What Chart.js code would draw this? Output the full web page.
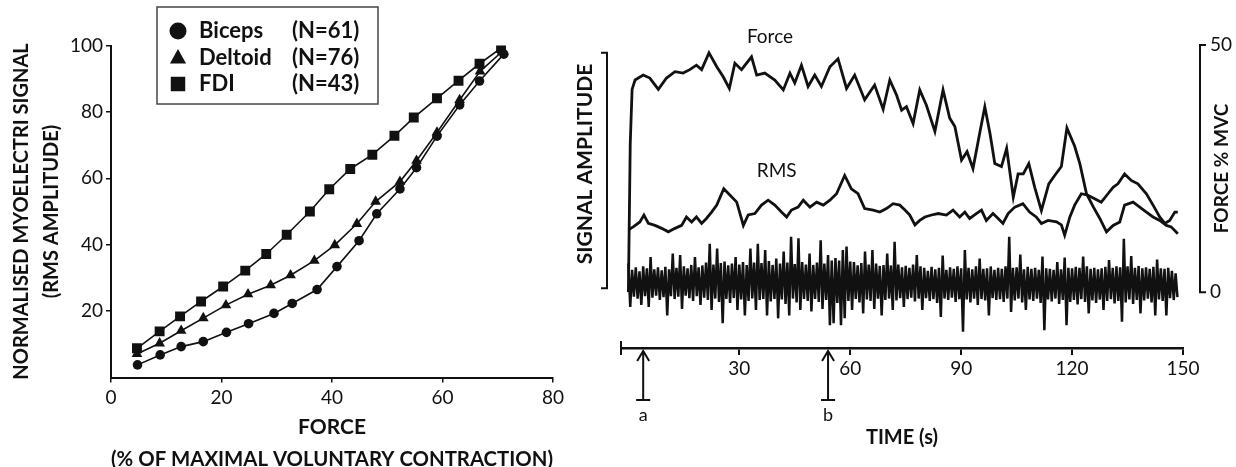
<!DOCTYPE html>
<html>
<head>
<meta charset="utf-8">
<script src="https://cdn.jsdelivr.net/npm/chart.js@4/dist/chart.umd.min.js"></script>
<style>
  html, body { margin: 0; padding: 0; background: #fff; overflow: hidden; }
  #wrap { position: relative; width: 1236px; height: 467px; }
  #left { position: absolute; left: 0; top: 0; width: 575px; height: 475px; }
  #right { position: absolute; left: 560px; top: 0; width: 676px; height: 467px; }
</style>
</head>
<body>
<div id="wrap">
  <div id="left"><canvas id="curves"></canvas></div>
  <div id="right"><canvas id="fatigue"></canvas></div>
</div>
<script>
// ---- left panel: RMS amplitude vs force ----
const muscleNames = ["Biceps", "Deltoid", "FDI"];
const muscleN = [61, 76, 43];
const bicepsForce  = [4.8, 8.9, 12.7, 16.7, 20.9, 24.9, 29.5, 32.8, 37.3, 40.9, 44.9, 48.1, 52.3, 55.3, 59.0, 63.1, 66.7, 71.1];
const bicepsSignal = [3.8, 6.8, 9.3, 10.8, 13.6, 16.2, 19.3, 22.3, 26.5, 33.4, 41.2, 49.3, 56.8, 63.2, 72.7, 82.1, 89.3, 97.4];
const deltoidForce  = [4.7, 8.8, 12.7, 16.7, 20.8, 24.8, 28.9, 32.5, 36.8, 40.5, 44.5, 47.9, 52.3, 55.3, 59.0, 63.1, 66.8, 70.8];
const deltoidSignal = [7.1, 10.3, 14.1, 17.9, 21.8, 25.1, 27.8, 30.8, 35.2, 39.9, 46.3, 53.0, 59.0, 65.3, 73.8, 83.6, 92.2, 98.2];
const fdiForce  = [4.7, 8.8, 12.5, 16.3, 20.3, 24.3, 28.1, 31.8, 36.0, 39.5, 43.3, 47.3, 51.3, 54.8, 59.0, 62.9, 66.7, 70.6];
const fdiSignal = [8.8, 13.9, 18.4, 22.9, 27.4, 32.2, 37.2, 43.0, 50.0, 56.7, 62.8, 67.1, 72.8, 78.3, 84.1, 89.4, 94.5, 99.2];
const forceTicks = [0, 20, 40, 60, 80];
const signalTicks = [20, 40, 60, 80, 100];

// ---- right panel: sustained contraction ----
const forceTime = [0, 0.5, 1.0, 1.8, 4.0, 5.8, 8.1, 10.3, 12.6, 14.8, 16.6, 18.4, 19.8, 21.8, 23.9, 25.6, 27.3, 28.8, 30.6, 33.3,
  34.7, 36.9, 39.6, 41.9, 43.7, 45.0, 46.8, 48.6, 50.4, 52.2, 54.5, 56.7, 59.0, 61.2, 63.9, 66.6, 68.9, 70.7, 72.5, 73.9,
  75.2, 77.0, 78.8, 80.6, 82.9, 85.1, 86.9, 88.3, 90.1, 91.6, 93.2, 95.0, 96.4, 97.8, 99.1, 100.9, 102.3, 104.1, 105.4, 106.8,
  108.3, 109.9, 111.7, 113.7, 115.3, 117.1, 118.6, 120.7, 122.1, 123.9, 125.7, 127.5, 129.3, 131.1, 132.9, 134.2, 136.5, 138.3, 140.1, 141.9,
  143.7, 145.5, 146.8, 148.6];
const forceMvc = [0, 30, 41, 42.9, 43.9, 43.3, 41.0, 43.3, 44.6, 44.3, 45.0, 45.9, 45.0, 48.4, 45.6, 43.6, 41.2, 46.3, 45.0, 47.6,
  43.9, 44.3, 42.9, 40.9, 44.3, 42.3, 45.9, 41.6, 43.9, 41.6, 45.6, 47.2, 41.2, 43.9, 38.9, 41.9, 37.0, 42.9, 39.9, 36.8,
  37.5, 34.1, 40.9, 37.8, 32.5, 40.9, 35.2, 33.5, 26.7, 28.4, 25.0, 32.1, 37.5, 32.1, 26.0, 25.4, 29.1, 19.2, 23.9, 23.9,
  26.0, 21.2, 16.5, 21.9, 23.6, 25.4, 33.2, 29.5, 26.0, 19.9, 17.3, 14.9, 12.2, 13.5, 14.2, 17.6, 18.2, 17.2, 16.2, 15.2,
  14.5, 13.5, 13.2, 11.8];
const rmsTime = [0, 1.3, 3.1, 4.2, 5.4, 7.2, 9.0, 10.8, 12.6, 14.4, 15.7, 17.1, 18.4, 19.8, 21.1, 22.5, 23.9, 25.8, 27.5, 29.3,
  31.1, 32.4, 34.2, 36.0, 37.8, 39.6, 41.4, 42.8, 44.1, 45.9, 47.3, 49.1, 50.9, 52.7, 54.5, 56.3, 58.5, 60.3, 62.1, 63.9,
  66.2, 68.0, 69.8, 71.6, 73.4, 74.8, 76.1, 77.5, 78.8, 80.2, 82.0, 83.8, 86.0, 87.8, 89.6, 91.0, 92.3, 94.1, 95.5, 96.8,
  98.6, 100.0, 101.3, 102.7, 104.5, 106.7, 108.5, 110.3, 111.7, 113.5, 115.8, 117.1, 118.0, 119.4, 120.7, 122.5, 124.3, 126.1, 127.9, 129.7,
  131.1, 132.4, 134.2, 136.0, 137.8, 140.1, 141.9, 143.7, 145.1, 146.4, 147.8, 148.6];
const rmsAmp = [12.6, 13.2, 14.2, 15.6, 13.9, 13.5, 12.9, 12.2, 12.9, 13.5, 15.2, 14.2, 15.2, 13.9, 14.9, 16.2, 17.6, 20.9, 19.6, 18.2,
  13.5, 15.6, 15.9, 17.6, 18.6, 17.6, 16.2, 15.2, 16.6, 17.2, 18.6, 17.2, 18.2, 17.6, 18.6, 19.9, 23.6, 20.9, 19.9, 16.9,
  16.6, 16.2, 16.9, 17.9, 17.6, 16.6, 15.6, 13.6, 14.5, 15.2, 15.6, 15.9, 15.6, 16.6, 15.2, 16.2, 14.9, 15.9, 16.6, 14.5,
  15.9, 14.9, 13.9, 15.9, 17.2, 17.9, 16.2, 15.2, 13.9, 14.5, 14.2, 13.6, 11.5, 15.2, 17.6, 19.9, 19.6, 18.9, 18.2, 19.9,
  21.2, 21.9, 23.9, 22.6, 21.9, 19.9, 17.6, 15.2, 13.9, 14.5, 16.2, 16.2];
// raw EMG: one positive excursion at each whole second, one negative half a second later
const emgPeaks = [5.8, 4.5, 5.0, 4.2, 5.2, 4.8, 7.1, 4.6, 5.0, 4.4,
  5.1, 4.6, 7.8, 4.9, 7.5, 5.2, 4.8, 5.5, 7.1, 5.0,
  5.4, 6.0, 9.8, 5.6, 8.8, 5.9, 6.2, 5.4, 5.8, 7.1,
  5.6, 6.1, 5.5, 8.8, 6.0, 9.8, 5.9, 8.5, 6.3, 5.5,
  6.8, 5.8, 8.2, 6.0, 11.2, 5.7, 10.9, 6.1, 5.6, 7.8,
  5.5, 6.0, 10.5, 5.8, 7.5, 6.4, 6.9, 6.4, 8.5, 9.2,
  6.2, 6.1, 5.4, 5.9, 8.2, 5.6, 8.5, 5.8, 5.3, 5.5,
  7.8, 5.4, 10.2, 5.6, 5.0, 5.3, 4.9, 5.6, 7.5, 5.2,
  4.9, 4.3, 5.1, 4.6, 4.9, 7.4, 4.5, 5.0, 4.7, 5.2,
  4.8, 8.5, 4.9, 4.6, 5.2, 6.8, 4.7, 4.8, 5.2, 4.5,
  4.9, 4.7, 5.2, 11.2, 4.9, 5.0, 7.6, 4.6, 5.1, 4.7,
  4.9, 4.5, 7.2, 4.8, 4.7, 4.5, 6.1, 4.6, 7.0, 4.9,
  4.8, 5.1, 4.9, 7.2, 5.2, 4.7, 4.9, 4.6, 4.8, 5.1,
  6.5, 4.9, 5.2, 5.0, 10.8, 5.2, 7.3, 4.9, 5.3, 4.8,
  5.0, 4.7, 5.1, 6.6, 4.8, 4.7, 4.9, 4.3, 3.8];
const emgTroughs = [-3.0, -0.9, -1.3, -2.6, -0.8, -3.0, -1.1, -0.7, -1.6, -1.0,
  -4.7, -0.8, -1.4, -0.9, -3.4, -0.7, -1.2, -1.8, -0.8, -2.6,
  -1.1, -1.6, -3.6, -1.3, -2.0, -6.3, -1.4, -2.2, -1.2, -3.6,
  -1.5, -4.7, -1.8, -1.3, -3.6, -1.6, -1.4, -4.7, -1.9, -1.4,
  -5.3, -1.5, -2.4, -4.7, -1.3, -2.1, -3.6, -1.4, -1.8, -3.9,
  -1.4, -2.0, -3.4, -1.6, -6.7, -6.3, -2.2, -6.7, -5.3, -1.8,
  -3.6, -1.4, -2.1, -4.3, -1.5, -1.8, -3.4, -1.3, -4.7, -1.6,
  -1.3, -3.6, -1.7, -1.2, -3.0, -1.4, -1.1, -1.9, -1.3, -3.6,
  -1.2, -1.8, -1.4, -2.2, -5.0, -1.3, -1.6, -1.1, -2.0, -1.4,
  -8.0, -1.5, -2.1, -1.3, -2.6, -1.4, -1.7, -4.7, -1.2, -1.6,
  -1.4, -2.0, -1.3, -4.0, -1.7, -1.3, -2.1, -3.6, -1.5, -1.8,
  -1.3, -2.2, -7.7, -1.5, -1.9, -1.3, -2.4, -1.6, -6.7, -2.0,
  -1.6, -2.5, -1.4, -2.0, -4.3, -1.7, -2.2, -1.5, -3.6, -1.8,
  -1.4, -2.3, -1.8, -6.0, -2.1, -1.5, -2.4, -1.6, -4.3, -1.7,
  -1.3, -2.1, -4.7, -1.5, -1.8, -4.7, -1.2, -1.6, -1.0];
const timeTicks = [30, 60, 90, 120, 150];
const mvcTicks = [0, 50];
const markTimes = [4, 54];
const markNames = ["a", "b"];
const traceNames = ["Force", "RMS"];
const traceNameTimes = [38.3, 40.1];
const traceNameValues = [51.7, 24.6];

const INK = "#111";
Chart.defaults.font.family = "Lato";
Chart.defaults.color = INK;

function pts(xs, ys) {
  return xs.map((x, i) => ({ x: x, y: ys[i] }));
}
function fixedTicks(values) {
  return function (scale) { scale.ticks = values.map(v => ({ value: v })); };
}

// hand-drawn marker shapes for the boxed legend
function drawMarker(ctx, style, x, y, s) {
  ctx.beginPath();
  if (style === "circle") {
    ctx.arc(x, y, s, 0, Math.PI * 2);
  } else if (style === "triangle") {
    ctx.moveTo(x, y - s);
    ctx.lineTo(x + s * 0.95, y + s * 0.7);
    ctx.lineTo(x - s * 0.95, y + s * 0.7);
    ctx.closePath();
  } else {
    ctx.rect(x - s * 0.85, y - s * 0.85, s * 1.7, s * 1.7);
  }
  ctx.fill();
}

const boxedLegend = {
  id: "boxedLegend",
  afterDraw(chart) {
    const ctx = chart.ctx;
    ctx.save();
    ctx.strokeStyle = "#444";
    ctx.lineWidth = 1.5;
    ctx.strokeRect(157, 7, 221, 97);
    ctx.fillStyle = INK;
    ctx.font = "bold 22px Lato";
    ctx.textBaseline = "middle";
    chart.data.datasets.forEach((ds, i) => {
      const y = 31 + i * 26.5;
      drawMarker(ctx, ds.pointStyle, 178, y, 8.5);
      ctx.fillText(muscleNames[i], 199, y);
      ctx.fillText("(N=" + muscleN[i] + ")", 292, y);
    });
    ctx.restore();
  }
};

function series(label, xs, ys, style, r) {
  return {
    label: label,
    data: pts(xs, ys),
    showLine: true,
    pointStyle: style,
    pointRadius: r,
    pointBackgroundColor: INK,
    pointBorderColor: INK,
    pointBorderWidth: 0,
    borderColor: INK,
    borderWidth: 1.6,
    tension: 0
  };
}

new Chart(document.getElementById("curves"), {
  type: "scatter",
  data: {
    datasets: [
      series(muscleNames[0], bicepsForce, bicepsSignal, "circle", 4.8),
      series(muscleNames[1], deltoidForce, deltoidSignal, "triangle", 6.2),
      series(muscleNames[2], fdiForce, fdiSignal, "rect", 7)
    ]
  },
  options: {
    responsive: true,
    maintainAspectRatio: false,
    animation: false,
    devicePixelRatio: 1,
    layout: { padding: { top: 45.5, right: 22, left: 0, bottom: 0 } },
    plugins: { legend: { display: false }, tooltip: { enabled: false } },
    scales: {
      x: {
        type: "linear", min: 0, max: 80,
        afterBuildTicks: fixedTicks(forceTicks),
        afterFit(scale) { scale.height = 97.5; },
        border: { color: INK, width: 2 },
        grid: { drawOnChartArea: false, color: INK, lineWidth: 1.5, tickLength: 5 },
        ticks: { font: { size: 19 }, padding: 4, maxRotation: 0 },
        title: {
          display: true,
          text: ["FORCE", "(% OF MAXIMAL VOLUNTARY CONTRACTION)"],
          font: { size: 21, weight: "bold", lineHeight: "32px" },
          padding: { top: 0, bottom: 0 }
        }
      },
      y: {
        type: "linear", min: 0, max: 100,
        afterBuildTicks: fixedTicks(signalTicks),
        afterFit(scale) { scale.width = 111; },
        border: { color: INK, width: 2 },
        grid: { drawOnChartArea: false, color: INK, lineWidth: 1.5, tickLength: 5 },
        ticks: { font: { size: 19 }, padding: 3 },
        title: {
          display: true,
          text: ["NORMALISED MYOELECTRI SIGNAL", "(RMS AMPLITUDE)"],
          font: { size: 20, weight: "bold", lineHeight: "30px" },
          padding: { top: 7, bottom: 0 }
        }
      }
    }
  },
  plugins: [boxedLegend]
});

// ---- right panel ----
const emgPoints = [];
emgPeaks.forEach((v, i) => {
  emgPoints.push({ x: i, y: v });
  emgPoints.push({ x: i + 0.5, y: emgTroughs[i] });
});

const traceDecor = {
  id: "traceDecor",
  afterDraw(chart) {
    const { ctx, chartArea } = chart;
    const xs = chart.scales.x, ys = chart.scales.y, amp = chart.scales.amp;
    ctx.save();
    ctx.strokeStyle = INK;
    ctx.fillStyle = INK;
    ctx.lineWidth = 2;

    // bracket for the signal amplitude
    const lx = chartArea.left - 14;
    const lTop = amp.getPixelForValue(48.4), lBot = amp.getPixelForValue(0.8);
    ctx.beginPath();
    ctx.moveTo(lx - 6, lTop); ctx.lineTo(lx, lTop); ctx.lineTo(lx, lBot); ctx.lineTo(lx - 6, lBot);
    ctx.stroke();

    // bracket for force % MVC
    const rx = chartArea.right + 17;
    const rTop = ys.getPixelForValue(mvcTicks[1]), rBot = ys.getPixelForValue(mvcTicks[0]);
    ctx.beginPath();
    ctx.moveTo(rx + 6, rTop); ctx.lineTo(rx, rTop); ctx.lineTo(rx, rBot); ctx.lineTo(rx + 6, rBot);
    ctx.stroke();

    ctx.textAlign = "center";
    ctx.textBaseline = "middle";
    ctx.font = "bold 21px Lato";
    ctx.save();
    ctx.translate(25, 164);
    ctx.rotate(-Math.PI / 2);
    ctx.fillText("SIGNAL AMPLITUDE", 0, 0);
    ctx.restore();
    ctx.font = "bold 19px Lato";
    ctx.save();
    ctx.translate(662, (rTop + rBot) / 2);
    ctx.rotate(-Math.PI / 2);
    ctx.fillText("FORCE % MVC", 0, 0);
    ctx.restore();

    // left end cap of the time axis
    ctx.beginPath();
    ctx.moveTo(chartArea.left, chartArea.bottom - 7);
    ctx.lineTo(chartArea.left, chartArea.bottom + 7);
    ctx.stroke();

    // event arrows a and b
    ctx.font = "18px Lato";
    markTimes.forEach((t, i) => {
      const px = xs.getPixelForValue(t);
      const top = chartArea.bottom + 3, bot = chartArea.bottom + 52;
      ctx.beginPath();
      ctx.moveTo(px, top); ctx.lineTo(px, bot);
      ctx.moveTo(px - 6, top + 10); ctx.lineTo(px, top); ctx.lineTo(px + 6, top + 10);
      ctx.moveTo(px - 7, bot); ctx.lineTo(px + 7, bot);
      ctx.stroke();
      ctx.fillText(markNames[i], px, bot + 15);
    });

    // trace names
    ctx.font = "19px Lato";
    traceNames.forEach((name, i) => {
      ctx.fillText(name, xs.getPixelForValue(traceNameTimes[i]), ys.getPixelForValue(traceNameValues[i]));
    });
    ctx.restore();
  }
};

const yMin = -11.3, yMax = 51.2;

new Chart(document.getElementById("fatigue"), {
  type: "line",
  data: {
    datasets: [
      { label: "EMG", data: emgPoints, yAxisID: "amp", borderColor: INK, borderWidth: 2.5, pointRadius: 0, tension: 0 },
      { label: "RMS", data: pts(rmsTime, rmsAmp), yAxisID: "amp", borderColor: INK, borderWidth: 2.8, pointRadius: 0, tension: 0 },
      { label: "Force", data: pts(forceTime, forceMvc), yAxisID: "y", borderColor: INK, borderWidth: 2.8, pointRadius: 0, tension: 0 }
    ]
  },
  options: {
    responsive: true,
    maintainAspectRatio: false,
    animation: false,
    devicePixelRatio: 1,
    layout: { padding: { top: 39, right: 0, left: 0, bottom: 0 } },
    plugins: { legend: { display: false }, tooltip: { enabled: false } },
    scales: {
      x: {
        type: "linear", min: -2, max: 150,
        afterBuildTicks: fixedTicks(timeTicks),
        afterFit(scale) { scale.height = 119; },
        border: { color: INK, width: 2.5 },
        grid: { drawOnChartArea: false, color: INK, lineWidth: 2, tickLength: 7 },
        ticks: { font: { size: 19 }, padding: 2, maxRotation: 0 },
        title: {
          display: true,
          text: "TIME (s)",
          font: { size: 20, weight: "bold", lineHeight: "24px" },
          padding: { top: 0, bottom: 17 }
        }
      },
      amp: {
        type: "linear", position: "left", min: yMin, max: yMax,
        afterFit(scale) { scale.width = 61; },
        border: { display: false },
        grid: { display: false },
        ticks: { display: false }
      },
      y: {
        type: "linear", position: "right", min: yMin, max: yMax,
        afterBuildTicks: fixedTicks(mvcTicks),
        afterFit(scale) { scale.width = 53; },
        border: { display: false },
        grid: { display: false, drawOnChartArea: false, drawTicks: false },
        ticks: { font: { size: 19 }, padding: 27 }
      }
    }
  },
  plugins: [traceDecor]
});
</script>
</body>
</html>
